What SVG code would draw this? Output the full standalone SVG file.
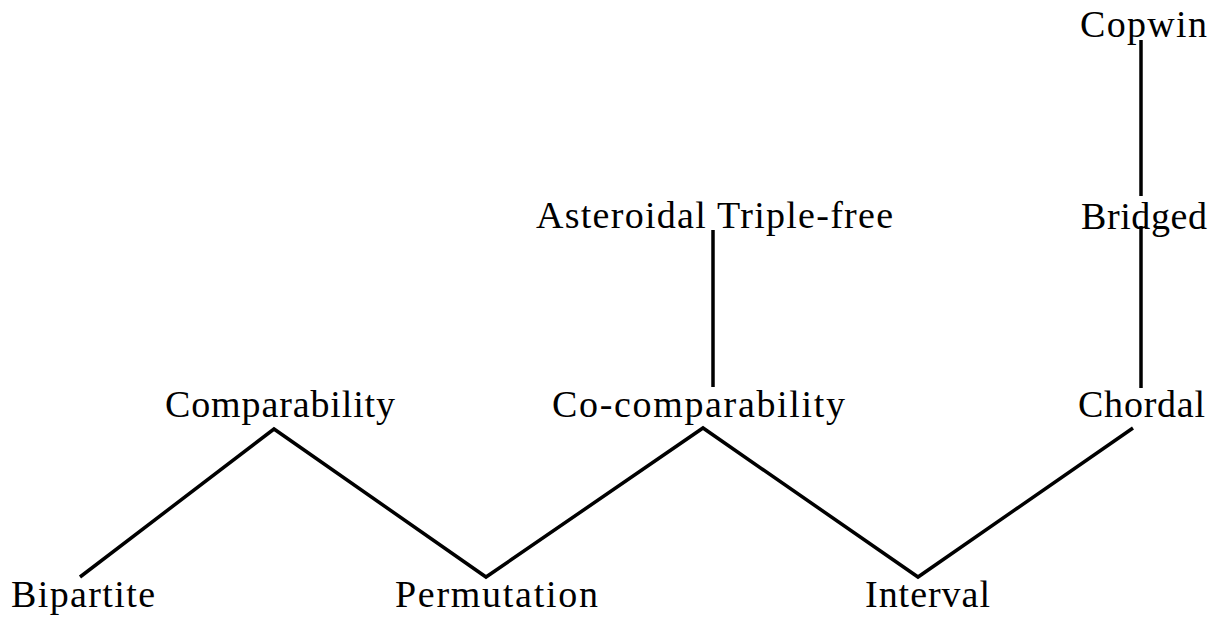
<svg xmlns="http://www.w3.org/2000/svg" width="1224" height="617" viewBox="0 0 1224 617">
  <style>
    .lbl { font-family: "Liberation Serif", "Times New Roman", serif; font-size: 38px; fill: #000; }
    .edge { stroke: #000; stroke-width: 3.5; fill: none; stroke-linecap: butt; stroke-linejoin: miter; }
  </style>
  <rect width="1224" height="617" fill="#fff"/>
  <g id="connectors">
    <line class="edge" x1="1141" y1="40" x2="1141" y2="196"/>
    <line class="edge" x1="1141" y1="226" x2="1141" y2="388"/>
    <line class="edge" x1="713" y1="230" x2="713" y2="387"/>
    <polyline class="edge" points="80,577 274,429 486,577 703,428 918,577 1133,428"/>
  </g>
  <g id="copwin"><text class="lbl" x="1080" y="37" textLength="127" lengthAdjust="spacing">Copwin</text></g>
  <g id="bridged"><text class="lbl" x="1081" y="229" textLength="126" lengthAdjust="spacing">Bridged</text></g>
  <g id="chordal"><text class="lbl" x="1078" y="417" textLength="127" lengthAdjust="spacing">Chordal</text></g>
  <g id="atfree"><text class="lbl" x="536" y="228" textLength="357" lengthAdjust="spacing">Asteroidal Triple-free</text></g>
  <g id="cocomparability"><text class="lbl" x="552" y="417" textLength="293" lengthAdjust="spacing">Co-comparability</text></g>
  <g id="comparability"><text class="lbl" x="165" y="417" textLength="230" lengthAdjust="spacing">Comparability</text></g>
  <g id="bipartite"><text class="lbl" x="11" y="607" textLength="144" lengthAdjust="spacing">Bipartite</text></g>
  <g id="permutation"><text class="lbl" x="395" y="607" textLength="203" lengthAdjust="spacing">Permutation</text></g>
  <g id="interval"><text class="lbl" x="865" y="607" textLength="125" lengthAdjust="spacing">Interval</text></g>
</svg>
